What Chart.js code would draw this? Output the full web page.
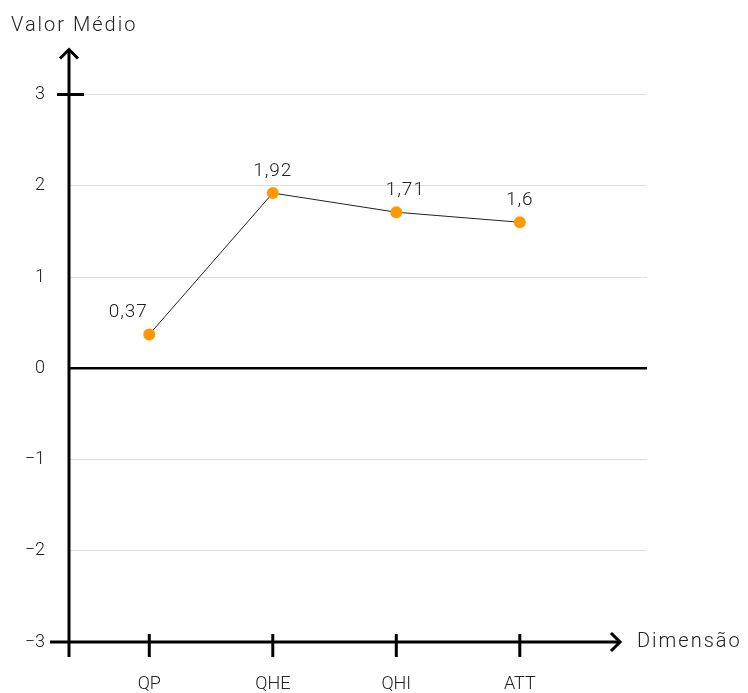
<!DOCTYPE html>
<html>
<head>
<meta charset="utf-8">
<script src="https://cdn.jsdelivr.net/npm/chart.js@4"></script>
<style>
  html, body { margin: 0; padding: 0; background: #fff; }
  #wrap { width: 748px; height: 693px; position: relative; }
</style>
</head>
<body>
<div id="wrap"><canvas id="c" width="748" height="693"></canvas></div>
<script>
const categories = ["QP", "QHE", "QHI", "ATT"];
const values = [0.37, 1.92, 1.71, 1.6];
const yTicks = [3, 2, 1, 0, -1, -2, -3];
const yTitle = "Valor Médio";
const xTitle = "Dimensão";

const FONT = "Roboto";
const TXT = "#222";

const axesPlugin = {
  id: "axesPlugin",
  beforeDatasetsDraw(chart) {
    const ctx = chart.ctx;
    const xs = chart.scales.x, ys = chart.scales.y;
    const ca = chart.chartArea;
    const x0 = ca.left;
    const yBottom = ys.getPixelForValue(-3);
    const yTop3 = ys.getPixelForValue(3);
    ctx.save();
    ctx.strokeStyle = "#000";
    ctx.lineWidth = 3;
    ctx.lineCap = "butt";
    // y axis
    ctx.beginPath();
    ctx.moveTo(x0, yBottom + 15);
    ctx.lineTo(x0, ca.top - 45);
    ctx.stroke();
    ctx.beginPath();
    ctx.lineJoin = "miter";
    ctx.moveTo(x0 - 9, ca.top - 36);
    ctx.lineTo(x0, ca.top - 45);
    ctx.lineTo(x0 + 9, ca.top - 36);
    ctx.stroke();
    // tick at 3
    ctx.beginPath();
    ctx.moveTo(x0 - 12, yTop3);
    ctx.lineTo(x0 + 15, yTop3);
    ctx.stroke();
    // x axis
    const xEnd = 620;
    ctx.beginPath();
    ctx.moveTo(x0 - 19, yBottom);
    ctx.lineTo(xEnd, yBottom);
    ctx.stroke();
    ctx.beginPath();
    ctx.moveTo(xEnd - 9, yBottom - 9);
    ctx.lineTo(xEnd, yBottom);
    ctx.lineTo(xEnd - 9, yBottom + 9);
    ctx.stroke();
    // category ticks
    categories.forEach((c, i) => {
      const px = xs.getPixelForValue(i);
      ctx.beginPath();
      ctx.moveTo(px, yBottom - 8);
      ctx.lineTo(px, yBottom + 15);
      ctx.stroke();
    });
    // titles
    ctx.fillStyle = TXT;
    ctx.font = "300 20px " + FONT;
    ctx.letterSpacing = "2px";
    ctx.textBaseline = "middle";
    ctx.textAlign = "left";
    ctx.fillText(xTitle, 637, yBottom);
    ctx.fillText(yTitle, 11, 26);
    ctx.restore();
  },
  afterDatasetsDraw(chart) {
    const ctx = chart.ctx;
    const meta = chart.getDatasetMeta(0);
    ctx.save();
    ctx.fillStyle = TXT;
    ctx.font = "300 19px " + FONT;
    ctx.letterSpacing = "1px";
    ctx.textAlign = "center";
    ctx.textBaseline = "middle";
    meta.data.forEach((pt, i) => {
      const dx = i === 0 ? -21 : (i === 2 ? 9 : 0);
      const txt = String(values[i]).replace(".", ",");
      ctx.fillText(txt, pt.x + dx, pt.y - 22);
    });
    ctx.restore();
  }
};

new Chart(document.getElementById("c"), {
  type: "line",
  data: {
    datasets: [{
      data: values.map((v, i) => ({ x: i, y: v })),
      borderColor: "#222",
      borderWidth: 1,
      pointBackgroundColor: "#ff9900",
      pointBorderWidth: 0,
      pointRadius: 6,
      tension: 0,
      fill: false
    }]
  },
  options: {
    responsive: false,
    animation: false,
    devicePixelRatio: 1,
    layout: { padding: { left: 0, top: 94.5, right: 101, bottom: 0 } },
    plugins: { legend: { display: false }, tooltip: { enabled: false } },
    scales: {
      x: {
        type: "linear",
        position: "bottom",
        min: -0.65,
        max: 4.03,
        afterBuildTicks(scale) { scale.ticks = categories.map((c, i) => ({ value: i })); },
        afterFit(scale) { scale.height = 51; },
        grid: { display: false },
        border: { display: false },
        ticks: {
          autoSkip: false,
          maxRotation: 0,
          padding: 24,
          color: TXT,
          font: { family: FONT, size: 18, weight: "300" },
          callback: (v) => categories[v] ?? ""
        }
      },
      y: {
        type: "linear",
        position: "left",
        min: -3,
        max: 3,
        afterBuildTicks(scale) { scale.ticks = yTicks.map(v => ({ value: v })); },
        afterFit(scale) { scale.width = 69; },
        border: { display: false },
        grid: {
          drawTicks: false,
          color: (c) => c.tick && c.tick.value === 0 ? "#000" : (c.tick && c.tick.value === -3 ? "rgba(0,0,0,0)" : "#dcdcdc"),
          lineWidth: (c) => c.tick && c.tick.value === 0 ? 2.5 : 1
        },
        ticks: {
          padding: 24,
          color: TXT,
          font: { family: FONT, size: 18, weight: "300" },
          callback: (v) => String(v).replace("-", "\u2212")
        }
      }
    }
  },
  plugins: [axesPlugin]
});
</script>
</body>
</html>
